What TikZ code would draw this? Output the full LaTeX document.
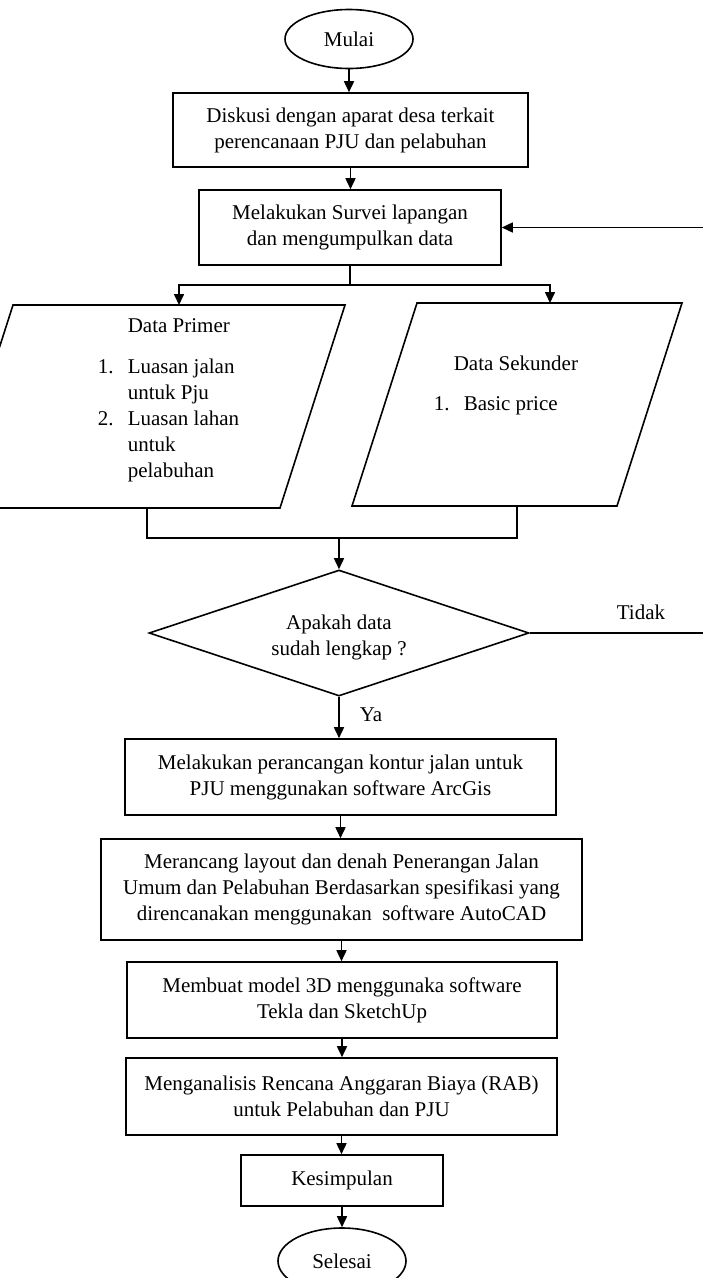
\documentclass[tikz,border=0pt]{standalone}
\usepackage{fontspec}
\setmainfont{Liberation Serif}
\usetikzlibrary{arrows.meta,shapes.geometric}
\begin{document}
\begin{tikzpicture}[x=1pt,y=-1pt,
  line width=1.6pt,
  every node/.style={font=\fontsize{21}{26}\selectfont},
  procbox/.style={draw, rectangle, align=center, inner sep=0pt},
  term/.style={draw, ellipse, inner sep=0pt},
  decision/.style={draw, diamond, inner sep=0pt},
  arr/.style={-{Triangle[length=11pt,width=10pt]}},
  lbl/.style={inner sep=0pt}]
\useasboundingbox (0,0) rectangle (703,1278);
\clip (0,0) rectangle (703,1278);

% start
\node[term, minimum width=128pt, minimum height=59pt] (mulai) at (349,39) {Mulai};
\node[procbox, minimum width=355pt, minimum height=74pt] (diskusi) at (350.5,130)
  {Diskusi dengan aparat desa terkait\\perencanaan PJU dan pelabuhan};
\node[procbox, minimum width=302pt, minimum height=75pt] (survei) at (350,227.5)
  {Melakukan Survei lapangan\\dan mengumpulkan data};

\draw[arr] (mulai.south) -- (mulai.south |- diskusi.north);
\draw[arr] (diskusi.south) -- (diskusi.south |- survei.north);

% return arrow from the right
\coordinate (backstart) at (703,227.5);
\draw[arr] (backstart) -- (survei.east);

% parallelograms
\coordinate (p1a) at (13,305);
\coordinate (p1b) at (345,305);
\coordinate (p1c) at (280,508);
\coordinate (p1d) at (-52,508);
\coordinate (p1top) at (179,305);
\coordinate (p1bot) at (147,508);
\draw (p1a) -- (p1b) -- (p1c) -- (p1d) -- cycle;

\coordinate (p2a) at (417,303);
\coordinate (p2b) at (682,303);
\coordinate (p2c) at (617,506);
\coordinate (p2d) at (352,506);
\coordinate (p2top) at (550,303);
\coordinate (p2bot) at (517,506);
\draw (p2a) -- (p2b) -- (p2c) -- (p2d) -- cycle;

\node[lbl, anchor=base west] (primer) at (97,332)
  {\begin{tabular}[t]{@{}p{30pt}@{}l@{}}
   & Data Primer\\[15pt]
   1. & Luasan jalan\\
      & untuk Pju\\
   2. & Luasan lahan\\
      & untuk\\
      & pelabuhan
   \end{tabular}};
\node[lbl, anchor=base west] (sekunder) at (433,370)
  {\begin{tabular}[t]{@{}p{30pt}@{}l@{}}
   \multicolumn{2}{@{}l@{}}{\hspace{20pt}Data Sekunder}\\[14pt]
   1. & Basic price
   \end{tabular}};

% split
\coordinate (split) at (350,285);
\draw (survei.south) -- (split);
\draw[arr] (split) -| (p1top);
\draw[arr] (split) -| (p2top);

% decision
\node[decision, minimum width=380pt, minimum height=126pt] (dec) at (339,633) {};
\node[lbl, align=center] (dectext) at (339,637) {Apakah data\\sudah lengkap ?};

% merge
\coordinate (merge) at (339,538);
\draw (p1bot) |- (merge) -| (p2bot);
\draw[arr] (merge) -- (dec.north);

% Tidak
\coordinate (tidakend) at (703,633);
\draw (dec.east) -- (tidakend);
\node[lbl] (tidak) at (641,612) {Tidak};

% process chain
\node[procbox, minimum width=431pt, minimum height=76pt] (kontur) at (340.5,777)
  {Melakukan perancangan kontur jalan untuk\\PJU menggunakan software ArcGis};
\node[procbox, minimum width=481pt, minimum height=101pt] (layout) at (341.5,889.5)
  {Merancang layout dan denah Penerangan Jalan\\Umum dan Pelabuhan Berdasarkan spesifikasi yang\\direncanakan menggunakan\ \ software AutoCAD};
\node[procbox, minimum width=430pt, minimum height=76pt] (model) at (342,1000)
  {Membuat model 3D menggunaka software\\Tekla dan SketchUp};
\node[procbox, minimum width=431pt, minimum height=77pt] (rab) at (341.5,1096.5)
  {Menganalisis Rencana Anggaran Biaya (RAB)\\untuk Pelabuhan dan PJU};
\node[procbox, minimum width=202pt, minimum height=51pt] (kesimpulan) at (342,1180.5)
  {Kesimpulan};
\node[term, minimum width=128pt, minimum height=66pt] (selesai) at (342,1261) {Selesai};

\draw[arr] (dec.south) -- (dec.south |- kontur.north);
\node[lbl] (ya) at (371,715) {Ya};
\draw[arr] (kontur.south) -- (kontur.south |- layout.north);
\draw[arr] (layout.south) -- (layout.south |- model.north);
\draw[arr] (model.south) -- (model.south |- rab.north);
\draw[arr] (rab.south) -- (rab.south |- kesimpulan.north);
\draw[arr] (kesimpulan.south) -- (kesimpulan.south |- selesai.north);
\end{tikzpicture}
\end{document}
